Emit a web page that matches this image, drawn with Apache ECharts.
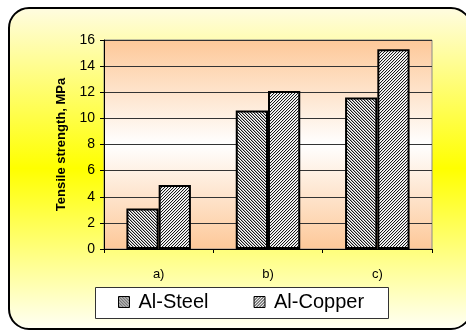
<!DOCTYPE html>
<html>
<head>
<meta charset="utf-8">
<script src="https://cdn.jsdelivr.net/npm/echarts@6/dist/echarts.min.js"></script>
<style>
  html, body { margin: 0; padding: 0; background: #ffffff; overflow: hidden; }
  #chart { width: 466px; height: 330px; }
</style>
</head>
<body>
<div id="chart"></div>
<script>
// Data
const categories = ['a)', 'b)', 'c)'];
const seriesNames = ['Al-Steel', 'Al-Copper'];
const alSteel = [3.1, 10.6, 11.6];
const alCopper = [4.9, 12.1, 15.3];
const yTicks = [0, 2, 4, 6, 8, 10, 12, 14, 16];

// Fine hatched fills drawn on small canvases
function hatch(dir) {
  const c = document.createElement('canvas');
  c.width = 3; c.height = 3;
  const ctx = c.getContext('2d');
  ctx.fillStyle = '#ffffff';
  ctx.fillRect(0, 0, 3, 3);
  for (let y = 0; y < 3; y++) {
    for (let x = 0; x < 3; x++) {
      const k = dir > 0 ? (x - y + 6) % 3 : (x + y) % 3;
      if (k === 0) { ctx.fillStyle = '#1a1a1a'; ctx.fillRect(x, y, 1, 1); }
      else if (k === 1) { ctx.fillStyle = dir > 0 ? '#b0b0b0' : '#d8d8d8'; ctx.fillRect(x, y, 1, 1); }
    }
  }
  return { image: c, repeat: 'repeat' };
}
const steelFill = hatch(1);
const copperFill = hatch(-1);

const chart = echarts.init(document.getElementById('chart'), null, { renderer: 'canvas' });

const font = 'Arial, "Liberation Sans", sans-serif';

chart.setOption({
  backgroundColor: '#ffffff',
  animation: false,
  graphic: [
    {
      type: 'rect',
      z: -10,
      shape: { x: 9, y: 8, width: 462, height: 321, r: 20 },
      style: {
        fill: {
          type: 'linear', x: 0, y: 0, x2: 0, y2: 1,
          colorStops: [
            { offset: 0, color: '#fffce2' },
            { offset: 0.5, color: '#ffff00' },
            { offset: 1, color: '#fffff6' }
          ]
        },
        stroke: '#000000',
        lineWidth: 2
      }
    },
    {
      type: 'rect',
      z: 3,
      shape: { x: 95.5, y: 287.5, width: 293, height: 31 },
      style: { fill: '#ffffff', stroke: '#333333', lineWidth: 1 }
    }
  ],
  grid: {
    left: 104, right: 34, top: 40, bottom: 81,
    show: true,
    borderColor: '#8a8a8a',
    borderWidth: 1,
    backgroundColor: {
      type: 'linear', x: 0, y: 0, x2: 0, y2: 1,
      colorStops: [
        { offset: 0, color: '#fdc898' },
        { offset: 0.5, color: '#ffffff' },
        { offset: 1, color: '#fdc898' }
      ]
    }
  },
  legend: {
    data: seriesNames,
    left: 118,
    top: 292,
    padding: 0,
    itemGap: 45,
    itemWidth: 11,
    itemHeight: 11,
    icon: 'rect',
    itemStyle: { borderColor: '#000', borderWidth: 1 },
    textStyle: { fontFamily: font, fontSize: 20, color: '#000', padding: [0, 0, 0, 4] }
  },
  xAxis: {
    type: 'category',
    data: categories,
    axisLine: { lineStyle: { color: '#000', width: 1 } },
    axisTick: { show: true, length: 4, lineStyle: { color: '#000' } },
    axisLabel: { fontFamily: font, fontSize: 13, color: '#000', margin: 19 },
    splitLine: { show: false }
  },
  yAxis: {
    type: 'value',
    min: yTicks[0],
    max: yTicks[yTicks.length - 1],
    interval: yTicks[1] - yTicks[0],
    name: 'Tensile strength, MPa',
    nameLocation: 'middle',
    nameGap: 36,
    nameTextStyle: { fontFamily: font, fontSize: 13, fontWeight: 'bold', color: '#000' },
    axisLine: { show: true, lineStyle: { color: '#000', width: 1 } },
    axisTick: { show: true, length: 4, lineStyle: { color: '#000' } },
    axisLabel: { fontFamily: font, fontSize: 14, color: '#000', margin: 9 },
    splitLine: { show: true, lineStyle: { color: '#333333', width: 1 } }
  },
  series: [
    {
      name: seriesNames[0],
      type: 'bar',
      data: alSteel,
      barGap: '0%',
      barCategoryGap: '41%',
      itemStyle: { color: steelFill, borderColor: '#000', borderWidth: 2 }
    },
    {
      name: seriesNames[1],
      type: 'bar',
      data: alCopper,
      itemStyle: { color: copperFill, borderColor: '#000', borderWidth: 2 }
    }
  ]
});
</script>
</body>
</html>
